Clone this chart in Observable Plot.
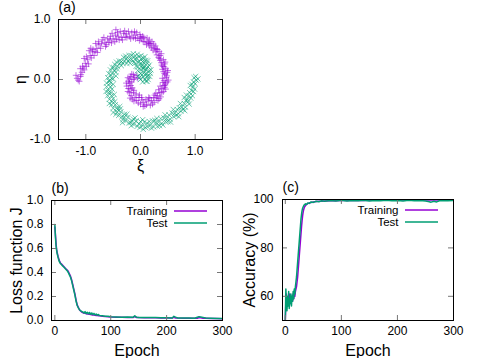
<!DOCTYPE html>
<html><head><meta charset="utf-8">
<script src="https://cdn.jsdelivr.net/npm/d3@7"></script>
<script src="https://cdn.jsdelivr.net/npm/@observablehq/plot@0.6"></script>
<style>
body{margin:0;background:#fff;}
#fig{position:relative;width:480px;height:358px;overflow:hidden;background:#fff;}
#fig > svg{position:absolute;}
</style></head><body><div id="fig"></div>
<script>
// ---------- data ----------
// (a) two interleaved spirals: [xi, eta]
const classA = [ // purple "+"
[-1.16,0.02],[-1.12,-0.03],[-1.1,0.05],[-1.18,0.07],
[-1.07,0.12],[-1.1,0.18],[-1.03,0.16],[-1.06,0.22],
[-1.01,0.27],[-0.97,0.33],[-1.03,0.35],[-0.95,0.26],
[-0.92,0.4],[-0.88,0.46],[-0.85,0.4],[-0.94,0.48],[-0.87,0.5],
[-0.8,0.52],[-0.76,0.58],[-0.73,0.52],[-0.82,0.6],[-0.77,0.63],
[-0.65,0.62],[-0.6,0.68],[-0.58,0.62],[-0.67,0.7],[-0.62,0.58],
[-0.5,0.68],[-0.46,0.74],[-0.44,0.67],[-0.52,0.77],[-0.47,0.63],[-0.45,0.83],
[-0.35,0.7],[-0.31,0.77],[-0.28,0.71],[-0.37,0.8],[-0.33,0.66],
[-0.2,0.72],[-0.16,0.78],[-0.13,0.7],[-0.22,0.8],[-0.18,0.68],
[-0.05,0.69],[-0.01,0.75],[0.02,0.68],[-0.07,0.78],[-0.02,0.65],
[0.08,0.63],[0.12,0.69],[0.14,0.62],[0.06,0.7],[0.11,0.58],
[0.2,0.53],[0.24,0.59],[0.26,0.52],[0.18,0.6],[0.23,0.49],
[0.3,0.41],[0.34,0.47],[0.36,0.4],[0.28,0.46],[0.33,0.37],
[0.38,0.28],[0.42,0.33],[0.44,0.26],[0.36,0.32],[0.41,0.22],
[0.42,0.13],[0.46,0.18],[0.49,0.12],[0.4,0.17],[0.45,0.08],
[0.43,-0.02],[0.47,0.03],[0.51,-0.01],[0.4,0.02],[0.46,-0.06],
[0.39,-0.15],[0.43,-0.1],[0.46,-0.16],[0.36,-0.11],[0.42,-0.2],
[0.31,-0.27],[0.35,-0.22],[0.37,-0.29],[0.28,-0.23],[0.34,-0.32],
[0.2,-0.35],[0.24,-0.3],[0.25,-0.38],[0.17,-0.31],[0.22,-0.41],
[0.06,-0.38],[0.1,-0.33],[0.11,-0.42],[0.03,-0.34],[0.08,-0.44],
[-0.07,-0.35],[-0.03,-0.3],[-0.04,-0.39],[-0.1,-0.3],[-0.02,-0.26],
[-0.17,-0.27],[-0.13,-0.22],[-0.19,-0.31],[-0.12,-0.18],[-0.2,-0.22],
[-0.22,-0.15],[-0.18,-0.1],[-0.25,-0.11],[-0.15,-0.14],[-0.2,-0.06],
[-0.16,-0.04],[-0.2,0.01],[-0.13,0.0],[-0.22,-0.03],
[-0.11,0.03],[-0.08,0.07],[-0.05,0.02],[-0.13,0.08],
[-1.14,-0.01],[-1.09,0.08],[-1.05,0.19],[-0.99,0.22],[-0.99,0.38],[-0.9,0.36],[-0.91,0.52],[-0.83,0.47],
[-0.79,0.45],[-0.71,0.6],[-0.7,0.66],[-0.64,0.55],[-0.55,0.72],[-0.56,0.66],[-0.53,0.61],[-0.41,0.72],
[-0.42,0.78],[-0.39,0.66],[-0.26,0.76],[-0.25,0.7],[-0.29,0.81],[-0.1,0.74],[-0.11,0.8],[-0.09,0.68],
[0.04,0.72],[0.0,0.71],[0.05,0.63],[0.16,0.66],[0.17,0.56],[0.15,0.6],[0.27,0.56],[0.29,0.51],
[0.21,0.63],[0.35,0.35],[0.38,0.43],[0.31,0.5],[0.43,0.21],[0.39,0.24],[0.45,0.29],[0.48,0.06],
[0.5,0.15],[0.44,0.1],[0.45,-0.09],[0.49,-0.04],[0.41,-0.05],[0.39,-0.22],[0.33,-0.17],[0.44,-0.13],
[0.29,-0.31],[0.26,-0.26],[0.32,-0.35],[0.14,-0.36],[0.15,-0.3],[0.18,-0.43],[0.0,-0.41],[0.02,-0.3],
[0.05,-0.45],[-0.12,-0.36],[-0.08,-0.24],[-0.15,-0.33],[-0.23,-0.2],[-0.17,-0.16],[-0.26,-0.06],[-0.23,0.03],
[-0.18,0.05],[-0.16,0.09]
];
const classB = [ // green "x"
[1.02,-0.01],[0.98,0.03],[1.05,0.01],[0.97,-0.04],
[0.96,-0.12],[0.93,-0.18],[0.99,-0.16],[0.91,-0.1],
[0.89,-0.27],[0.86,-0.33],[0.92,-0.31],[0.84,-0.26],[0.87,-0.37],
[0.8,-0.4],[0.76,-0.46],[0.82,-0.46],[0.73,-0.4],[0.78,-0.5],
[0.67,-0.5],[0.63,-0.56],[0.69,-0.57],[0.6,-0.5],[0.65,-0.6],
[0.52,-0.59],[0.48,-0.65],[0.54,-0.66],[0.45,-0.59],[0.5,-0.7],
[0.37,-0.65],[0.33,-0.71],[0.39,-0.73],[0.3,-0.65],[0.35,-0.77],[0.28,-0.72],
[0.22,-0.69],[0.18,-0.76],[0.24,-0.79],[0.16,-0.7],
[0.07,-0.71],[0.03,-0.77],[0.09,-0.8],[0.0,-0.7],[0.04,-0.67],
[-0.08,-0.69],[-0.12,-0.75],[-0.06,-0.78],[-0.15,-0.69],[-0.1,-0.64],
[-0.23,-0.63],[-0.27,-0.69],[-0.21,-0.72],[-0.3,-0.63],[-0.25,-0.58],
[-0.36,-0.54],[-0.4,-0.6],[-0.34,-0.62],[-0.43,-0.54],[-0.37,-0.49],
[-0.46,-0.42],[-0.5,-0.48],[-0.43,-0.47],[-0.53,-0.42],[-0.47,-0.37],
[-0.53,-0.27],[-0.57,-0.33],[-0.5,-0.32],[-0.6,-0.27],[-0.54,-0.22],
[-0.55,-0.12],[-0.59,-0.18],[-0.52,-0.16],[-0.62,-0.12],[-0.56,-0.07],
[-0.53,0.02],[-0.57,-0.03],[-0.5,0.01],[-0.6,0.03],[-0.54,0.07],
[-0.48,0.15],[-0.52,0.1],[-0.45,0.12],[-0.55,0.16],[-0.49,0.2],
[-0.38,0.27],[-0.42,0.22],[-0.35,0.23],[-0.44,0.29],[-0.39,0.31],
[-0.26,0.35],[-0.3,0.3],[-0.23,0.31],[-0.31,0.37],[-0.27,0.39],[-0.25,0.27],
[-0.12,0.38],[-0.16,0.33],[-0.1,0.34],[-0.17,0.4],[-0.13,0.43],[-0.12,0.29],
[0.02,0.35],[-0.02,0.3],[0.04,0.3],[-0.03,0.38],[0.01,0.4],[0.0,0.26],
[0.12,0.27],[0.08,0.22],[0.14,0.21],[0.06,0.28],[0.1,0.32],[0.05,0.19],
[0.16,0.15],[0.12,0.1],[0.18,0.1],[0.1,0.16],[0.13,0.06],
[0.12,0.05],[0.08,0.0],[0.05,0.04],[0.14,0.0],
[0.0,0.0],[0.04,-0.04],[-0.02,0.03],[0.03,0.08],[0.07,0.12],[-0.05,0.15],[-0.08,0.22],[0.05,0.18],
[1.0,-0.07],[1.01,0.05],[0.94,-0.08],[0.97,-0.2],[0.9,-0.22],[0.95,-0.27],[0.83,-0.35],[0.8,-0.3],
[0.89,-0.41],[0.71,-0.47],[0.74,-0.53],[0.81,-0.52],[0.58,-0.56],[0.61,-0.62],[0.7,-0.62],[0.43,-0.64],
[0.46,-0.7],[0.55,-0.71],[0.26,-0.68],[0.31,-0.78],[0.41,-0.76],[0.12,-0.73],[0.13,-0.79],[0.2,-0.81],
[-0.03,-0.74],[-0.01,-0.8],[0.05,-0.83],[-0.18,-0.72],[-0.17,-0.77],[-0.13,-0.66],[-0.32,-0.67],[-0.29,-0.58],
[-0.33,-0.72],[-0.42,-0.5],[-0.45,-0.58],[-0.38,-0.45],[-0.52,-0.37],[-0.57,-0.4],[-0.5,-0.55],[-0.58,-0.22],
[-0.63,-0.2],[-0.48,-0.25],[-0.57,-0.02],[-0.62,-0.06],[-0.5,-0.08],[-0.52,0.2],[-0.58,0.1],[-0.45,0.06],
[-0.43,0.18],[-0.35,0.3],[-0.47,0.25],[-0.32,0.27],[-0.2,0.33],[-0.21,0.4],[-0.19,0.27],[-0.07,0.36],
[-0.06,0.42],[-0.05,0.29],[0.05,0.35],[0.08,0.38],[0.03,0.24],[0.16,0.24],[0.13,0.31],[0.1,0.18],
[0.19,0.16],[0.17,0.05],[0.08,0.08],[0.1,-0.03],[0.0,0.1],[-0.03,0.07],[-0.1,0.27],[-0.05,0.21],
[0.0,0.16],[0.02,0.21],[0.12,-0.03]
];
const scatterTicks = [-1, 0, 1];

// (b) loss function J vs epoch
const lossEpochs = [0,1,2,3,4,5,6,8,10,12,14,16,18,20,22,24,26,28,30,32,34,36,38,40,42,44,46,48,50,52,54,56,58,60,62,64,66,68,70,72,74,76,78,80,85,90,95,100,110,120,130,140,143,146,150,160,170,180,190,200,210,213,216,220,230,240,250,255,258,261,265,270,280,290,300];
const lossTraining = [0.78,0.72,0.65,0.6,0.57,0.55,0.53,0.50,0.48,0.47,0.46,0.45,0.44,0.43,0.42,0.41,0.39,0.37,0.34,0.30,0.26,0.22,0.17,0.13,0.11,0.09,0.08,0.07,0.065,0.062,0.06,0.057,0.055,0.053,0.051,0.049,0.048,0.046,0.045,0.044,0.042,0.041,0.04,0.039,0.036,0.034,0.032,0.03,0.028,0.027,0.026,0.025,0.032,0.025,0.024,0.023,0.022,0.022,0.021,0.02,0.02,0.027,0.021,0.02,0.019,0.018,0.018,0.018,0.025,0.023,0.019,0.018,0.017,0.016,0.015];
const lossTest = [0.80,0.70,0.63,0.59,0.56,0.54,0.52,0.49,0.475,0.465,0.455,0.445,0.435,0.425,0.415,0.40,0.38,0.36,0.33,0.29,0.25,0.21,0.16,0.125,0.105,0.09,0.082,0.075,0.072,0.063,0.074,0.058,0.069,0.055,0.067,0.052,0.063,0.05,0.059,0.047,0.054,0.044,0.05,0.042,0.04,0.035,0.036,0.031,0.03,0.028,0.029,0.027,0.04,0.028,0.026,0.025,0.024,0.024,0.022,0.022,0.021,0.035,0.028,0.021,0.02,0.02,0.019,0.027,0.032,0.03,0.026,0.02,0.018,0.017,0.016];
const lossYTicks = [0, 0.2, 0.4, 0.6, 0.8, 1.0];
const epochTicks = [0, 100, 200, 300];

// (c) accuracy (%) vs epoch
const accEpochs = [0,1,2,3,4,5,6,7,8,9,10,11,12,13,14,15,16,17,18,19,20,21,22,23,24,25,26,27,28,29,30,31,32,33,34,36,38,40,43,46,50,55,60,65,70,80,90,100,110,120,130,140,150,160,170,180,190,200,210,220,230,240,250,255,260,265,270,275,280,290,300];
const accTraining = [50,58,61,56,59,57,60,58,61,57,59,58,60,58,61,59,62,60,62,63,64,66,68,71,74,77,80,83,86,89,91.5,93.5,95,96,96.8,97.5,98,98.3,98.6,98.8,99,99.2,99.3,99.3,99.4,99.5,99.5,99.6,99.6,99.6,99.7,99.6,99.7,99.7,99.7,99.7,99.8,99.7,99.8,99.8,99.8,99.8,99.8,99.8,99.8,99.8,99.9,99.8,99.9,99.9,99.9];
const accTest = [50,63,57,54,60,56,62,55,59,57,61,56,60,58,62,59,63,61,64,66,68,71,74,77,80,83,86,89,92,94,95.5,96.5,97,97.5,97.8,98.2,97.9,98.6,98.4,99,98.8,99.3,99.1,99.5,99.3,99.6,99.4,99.7,99.4,99.6,99.5,99.7,99.4,99.6,99.5,99.7,99.5,99.6,99.4,99.7,99.5,99.6,99.4,99.2,98.9,99.3,99,99.5,99.6,99.5,99.6];
const accYTicks = [60, 80, 100];

const seriesNames = ["Training", "Test"];

// ---------- drawing ----------
const FONT = '"Liberation Sans", Arial, Helvetica, sans-serif';
const PURPLE = "#9400d3", GREEN = "#009e73";
const fig = document.getElementById("fig");

function panel(o) {
  const iw = o.width - o.ml - o.mr, ih = o.height - o.mt - o.mb, T = 5;
  const chart = Plot.plot({
    width: o.width, height: o.height,
    marginTop: o.mt, marginRight: o.mr, marginBottom: o.mb, marginLeft: o.ml,
    x: {domain: o.xDomain}, y: {domain: o.yDomain},
    style: {fontFamily: FONT, fontSize: "12px", background: "transparent", color: "#000", overflow: "visible"},
    marks: [
      ...o.marks,
      Plot.tickX(o.xTicks, {x: d => d, insetTop: ih - T, stroke: "#777"}),
      Plot.tickX(o.xTicks, {x: d => d, insetBottom: ih - T, stroke: "#777"}),
      Plot.tickY(o.yTicks, {y: d => d, insetRight: iw - T, stroke: "#777"}),
      Plot.tickY(o.yTicks, {y: d => d, insetLeft: iw - T, stroke: "#777"}),
      Plot.frame({stroke: "#000", strokeWidth: 1}),
      Plot.axisX({ticks: o.xTicks, tickSize: 0, tickPadding: o.xPad, tickFormat: o.xFmt, label: null, fontSize: 12}),
      Plot.axisY({ticks: o.yTicks, tickSize: 0, tickPadding: o.yPad, tickFormat: o.yFmt, label: null, fontSize: 12}),
      Plot.text([o.tag], {frameAnchor: "top-left", dx: 0, dy: -12, textAnchor: "start", lineAnchor: "middle", fontSize: 14}),
      Plot.text([o.ylabel], {frameAnchor: "left", dx: o.ylDx, rotate: -90, fontSize: o.ylSize, textAnchor: "middle", lineAnchor: "middle"}),
      Plot.text([o.xlabel], {frameAnchor: "bottom", dy: o.xlDy, fontSize: o.xlSize, textAnchor: "middle", lineAnchor: "middle"}),
      ...(o.legend ? [
        Plot.text([seriesNames[0]], {frameAnchor: "top-right", dx: -55, dy: 11, textAnchor: "end", lineAnchor: "middle", fontSize: 11.5}),
        Plot.text([seriesNames[1]], {frameAnchor: "top-right", dx: -55, dy: 23, textAnchor: "end", lineAnchor: "middle", fontSize: 11.5})
      ] : [])
    ]
  });
  chart.style.left = o.left + "px";
  chart.style.top = o.top + "px";
  if (o.legend) {
    const g = d3.select(chart).append("g").attr("stroke-width", 1.5);
    [[PURPLE, 11], [GREEN, 23]].forEach(([c, dy]) => {
      g.append("line").attr("x1", o.ml + iw - 48).attr("x2", o.ml + iw - 15)
        .attr("y1", o.mt + dy).attr("y2", o.mt + dy).attr("stroke", c);
    });
  }
  fig.appendChild(chart);
}

const f1 = d => d.toFixed(1);
const f0 = d => String(d);

// (a)
panel({
  left: 0, top: 0, width: 240, height: 180, mt: 19, mr: 18, mb: 41, ml: 58,
  xDomain: [-1.5, 1.5], yDomain: [-1, 1], xTicks: scatterTicks, yTicks: scatterTicks,
  xFmt: f1, yFmt: f1, xPad: 7, yPad: 8, tag: "(a)",
  ylabel: "η", ylDx: -38, ylSize: 16, xlabel: "ξ", xlDy: 26, xlSize: 16,
  marks: [
    Plot.dot(classA, {x: d => d[0], y: d => d[1], symbol: "plus", r: 2.2, stroke: PURPLE, strokeOpacity: 0.55, strokeWidth: 1}),
    Plot.dot(classB, {x: d => d[0], y: d => d[1], symbol: "times", r: 2.5, stroke: GREEN, strokeOpacity: 0.55, strokeWidth: 1})
  ]
});

// (b)
panel({
  left: 0, top: 170, width: 240, height: 188, mt: 30, mr: 18, mb: 38, ml: 51,
  xDomain: [-6, 300], yDomain: [0, 1], xTicks: epochTicks, yTicks: lossYTicks,
  xFmt: f0, yFmt: f1, xPad: 6, yPad: 8, tag: "(b)",
  ylabel: "Loss function J", ylDx: -35, ylSize: 16, xlabel: "Epoch", xlDy: 30, xlSize: 16,
  legend: true,
  marks: [
    Plot.line(lossEpochs, {x: d => d, y: (d, i) => lossTraining[i], stroke: PURPLE, strokeWidth: 1.5, clip: true}),
    Plot.line(lossEpochs, {x: d => d, y: (d, i) => lossTest[i], stroke: GREEN, strokeWidth: 1.5, clip: true})
  ]
});

// (c)
panel({
  left: 240, top: 170, width: 240, height: 188, mt: 29, mr: 27, mb: 38, ml: 42,
  xDomain: [-5, 300], yDomain: [50, 100], xTicks: epochTicks, yTicks: accYTicks,
  xFmt: f0, yFmt: f0, xPad: 6, yPad: 9, tag: "(c)",
  ylabel: "Accuracy (%)", ylDx: -33, ylSize: 16, xlabel: "Epoch", xlDy: 30, xlSize: 16,
  legend: true,
  marks: [
    Plot.line(accEpochs, {x: d => d, y: (d, i) => accTraining[i], stroke: PURPLE, strokeWidth: 1.5, clip: true}),
    Plot.line(accEpochs, {x: d => d, y: (d, i) => accTest[i], stroke: GREEN, strokeWidth: 1.5, clip: true})
  ]
});
</script>
</body></html>
